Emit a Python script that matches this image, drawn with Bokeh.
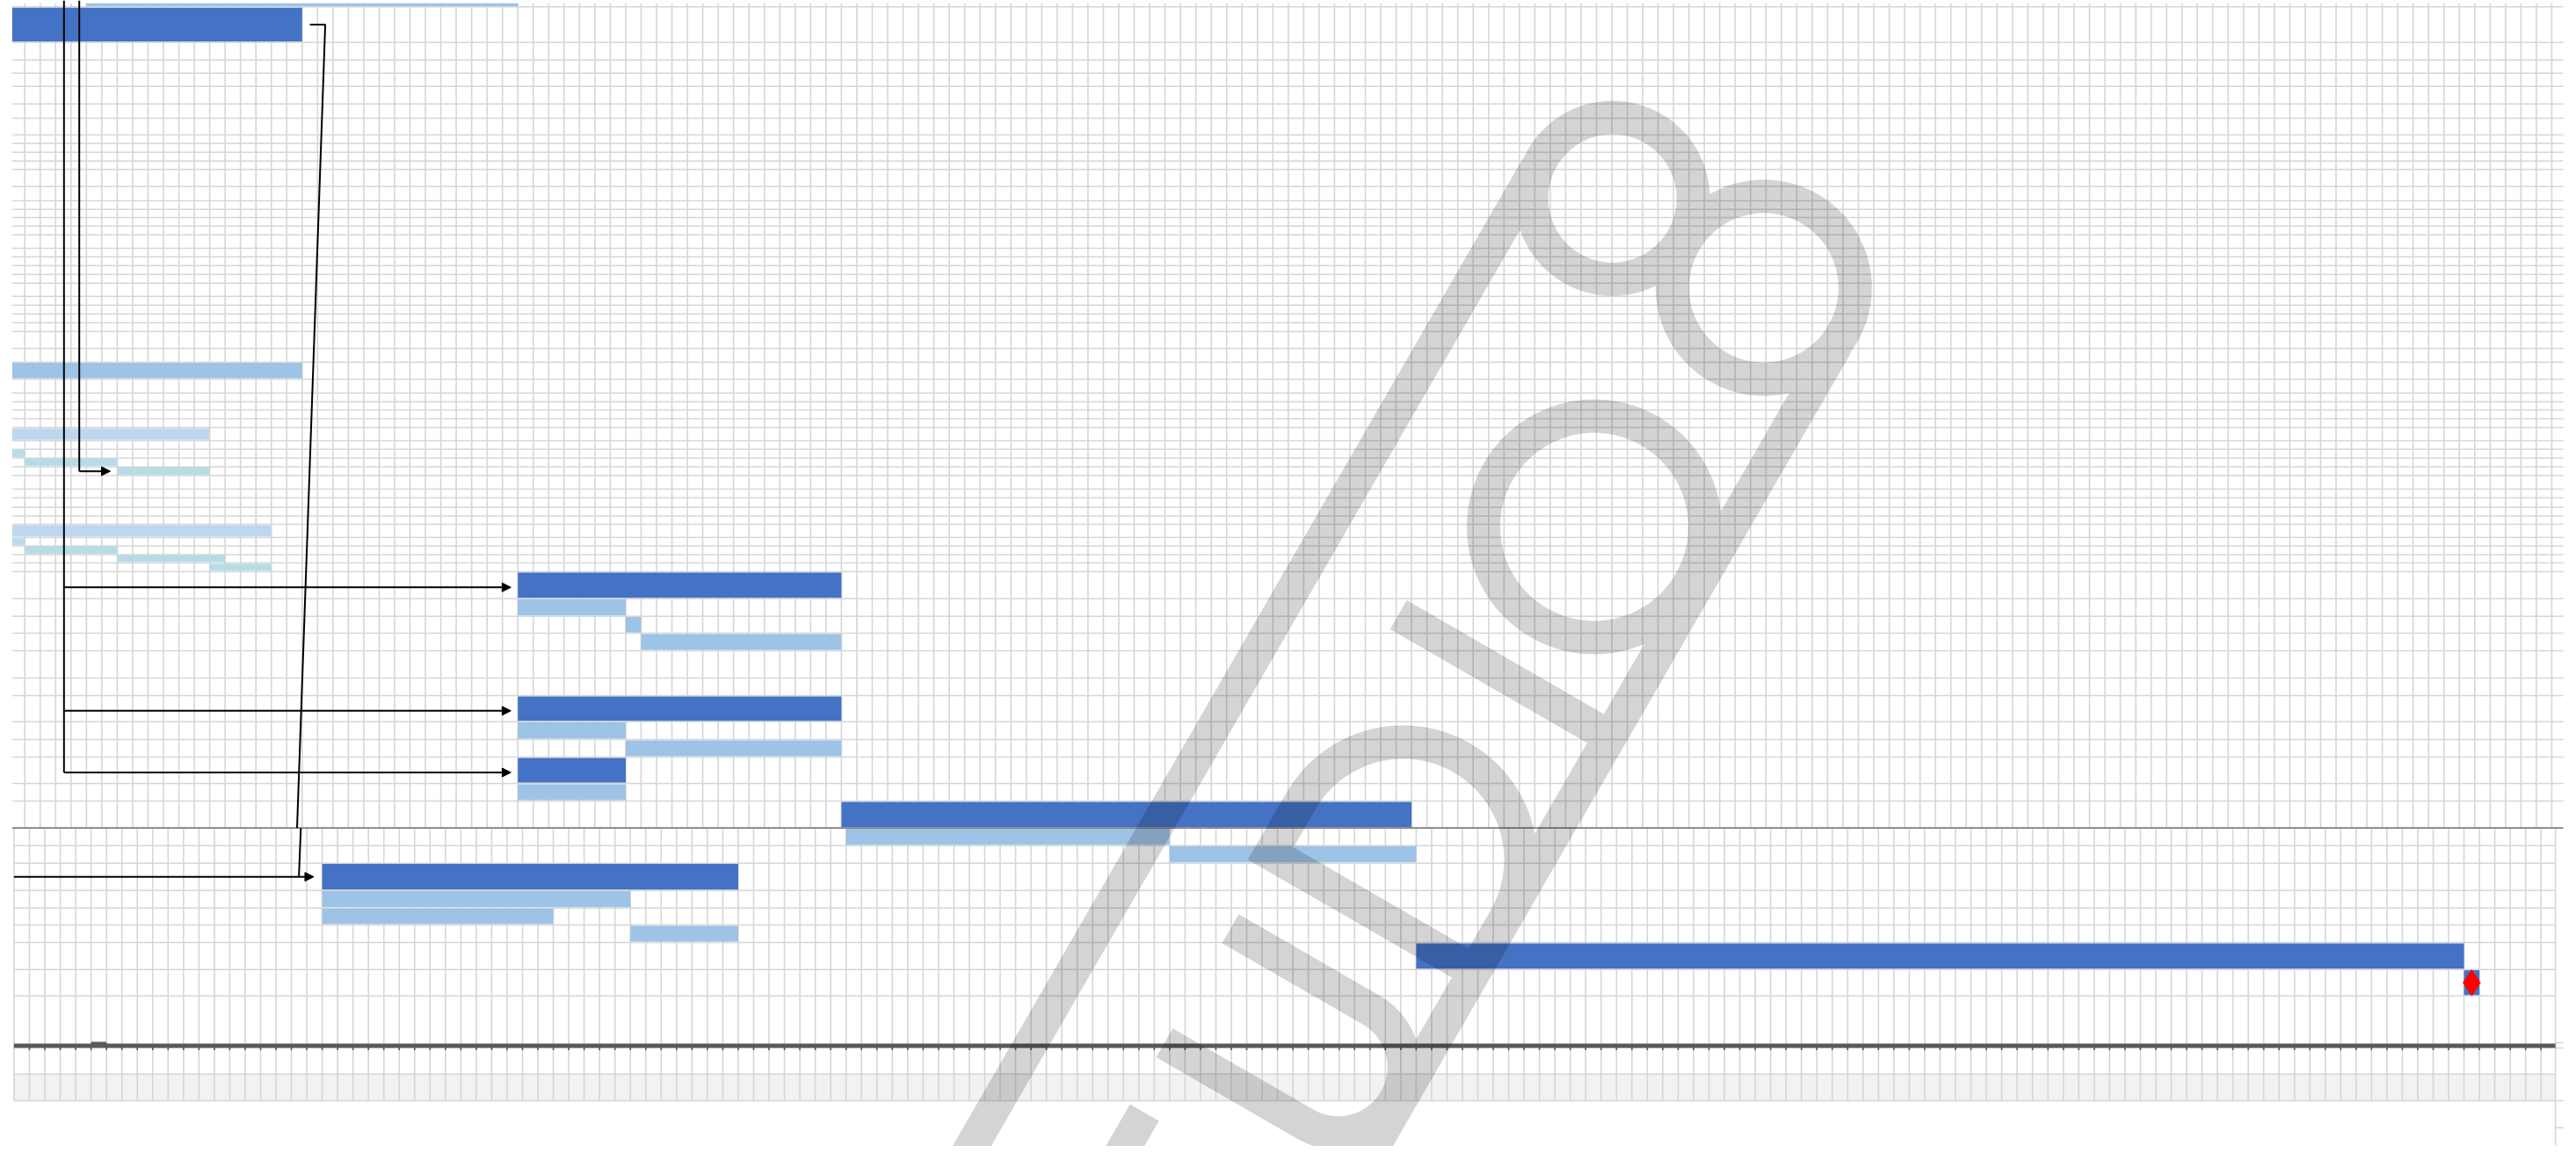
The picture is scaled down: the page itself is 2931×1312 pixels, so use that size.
import numpy as np
from bokeh.plotting import figure
from bokeh.models import Range1d, Arrow, NormalHead
from bokeh.embed import file_html
from bokeh.resources import INLINE

# ---------------- chart values (days, counted from the first full column) ----------------
# upper sheet: row number, start day, end day, bar kind
UP_ROW   = [0, 1, 30, 36, 38, 39, 40, 46, 47, 48, 49, 50, 51, 52, 53, 54, 57, 58, 59, 60, 61, 62]
UP_START = [4, -2, -2, -2, -2, 0, 6, -2, -2, 0, 6, 12, 32, 32, 39, 40, 32, 32, 39, 32, 32, 53]
UP_END   = [32, 18, 18, 12, 0, 6, 12, 16, 0, 6, 13, 16, 53, 39, 40, 53, 53, 39, 53, 39, 39, 90]
UP_KIND  = ["sub", "summary", "sub", "group", "detail", "detail", "detail", "group",
            "detail", "detail", "detail", "detail", "summary", "sub", "sub", "sub",
            "summary", "sub", "sub", "summary", "sub", "summary"]

# lower sheet
LO_ROW   = [0, 1, 2, 3, 4, 5, 6]
LO_START = [53, 74, 19, 19, 19, 39, 90]
LO_END   = [74, 90, 46, 39, 34, 46, 158]
LO_KIND  = ["sub", "sub", "summary", "sub", "sub", "sub", "summary"]
MILESTONE_ROW = [7]
MILESTONE_DAY = [158]

# dependency links
LINKS_A_ROWS = [51, 57, 60]
LINKS_A_DAY = 32
LINK_B_ROW, LINK_B_DAY = 40, 6
LINK_C_FROM_DAY, LINK_C_ROW, LINK_C_DAY = 18, 2, 19

COLORS = {"summary": "#4472C4", "sub": "#9DC3E6", "group": "#BDD7EE", "detail": "#B6DDE5"}

# ---------------- layout ----------------
DAY_PX, DAY0_PX = 17.532, 27.7
UPPER_EDGES = [3.3, 7.3, 47.7, 67.7, 82.7, 97.7, 117.7, 134, 153, 162.7, 172.7, 182.7, 192.3,
               211.7, 228, 237.7, 247, 256.7, 266.7, 282, 291.7, 301.7, 311.7, 321.7, 336.7,
               346.7, 356.7, 366.7, 376.7, 396, 411.7, 431, 446.7, 456.7, 466, 476, 486, 501,
               510.7, 520.7, 530.7, 540.7, 556, 566, 576.7, 586.7, 596, 611, 620.7, 630.7,
               640, 650, 680.7, 700.7, 720, 740, 771, 791, 820.7, 841, 861, 891, 911, 941.7]
LOWER_EDGES = [941.7, 961.7, 981.7, 1012.7, 1032.7, 1052, 1072, 1102.7, 1132.7, 1187,
               1192, 1221.7, 1252]
LOWER_SHIFT = 0.302
UP_LEFT, UP_RIGHT = -0.816, 164.75
LO_LEFT, LO_RIGHT = -0.702, 164.24
GRID = "#D6D6D6"

W, H = 2923, 1304
X0 = (0 - DAY0_PX) / DAY_PX
X1 = X0 + W / DAY_PX
Y_TOP, Y_BOT = 0.0, float(H)


def d_of(px):
    return (px - DAY0_PX) / DAY_PX


def mid(edges, r):
    return 0.5 * (edges[r] + edges[r + 1])


p = figure(width=W, height=H, output_backend="svg", toolbar_location=None,
           x_range=Range1d(X0, X1), y_range=Range1d(Y_BOT, Y_TOP),
           x_axis_location=None, y_axis_location=None, min_border=0)
p.grid.visible = False
p.outline_line_color = None
p.background_fill_color = "white"
p.border_fill_color = "white"

# gray band at the bottom of the lower sheet
p.quad(left=[LO_LEFT], right=[LO_RIGHT], top=[LOWER_EDGES[-2]], bottom=[LOWER_EDGES[-1]],
       fill_color="#F2F2F2", line_color=None)

# ---- grid: upper sheet ----
ux = list(range(0, 165))
p.segment(x0=ux, y0=[UPPER_EDGES[0]] * len(ux), x1=ux, y1=[UPPER_EDGES[-1]] * len(ux),
          line_color=GRID, line_width=1.6)
uy = UPPER_EDGES[1:-1]
p.segment(x0=[UP_LEFT] * len(uy), y0=uy, x1=[UP_RIGHT] * len(uy), y1=uy,
          line_color=GRID, line_width=1.6)

# ---- grid: lower sheet ----
lx = [k + LOWER_SHIFT for k in range(0, 164)] + [LO_LEFT]
p.segment(x0=lx, y0=[LOWER_EDGES[0]] * len(lx), x1=lx, y1=[LOWER_EDGES[-1]] * len(lx),
          line_color=GRID, line_width=1.6)
ly = [e for i, e in enumerate(LOWER_EDGES) if i not in (0, 9, 10)]
p.segment(x0=[LO_LEFT] * len(ly), y0=ly, x1=[LO_RIGHT] * len(ly), y1=ly,
          line_color=GRID, line_width=1.6)
p.segment(x0=[LO_RIGHT], y0=[LOWER_EDGES[0]], x1=[LO_RIGHT], y1=[Y_BOT],
          line_color=GRID, line_width=1.6)
tick_y = [1186, 1192, 1252, 1282.7]
p.segment(x0=[LO_RIGHT] * 4, y0=tick_y, x1=[UP_RIGHT] * 4, y1=tick_y,
          line_color=GRID, line_width=1.6)

# sheet separator and thick line
p.segment(x0=[UP_LEFT], y0=[UPPER_EDGES[-1]], x1=[UP_RIGHT], y1=[UPPER_EDGES[-1]],
          line_color="#7F7F7F", line_width=1.8)
thick_y = 0.5 * (LOWER_EDGES[9] + LOWER_EDGES[10])
p.segment(x0=[LO_LEFT], y0=[thick_y], x1=[LO_RIGHT], y1=[thick_y],
          line_color="#595959", line_width=5)
tx = [k + LOWER_SHIFT for k in range(0, 164)]
p.segment(x0=tx, y0=[thick_y] * len(tx), x1=tx, y1=[thick_y + 5] * len(tx),
          line_color="#595959", line_width=1.6)
p.quad(left=[4 + LOWER_SHIFT], right=[5 + LOWER_SHIFT], top=[thick_y - 4.5], bottom=[thick_y],
       fill_color="#595959", line_color=None)


# ---- bars ----
def draw_bars(rows, starts, ends, kinds, edges, shift, left, first_pad):
    l = [max(s + shift, left) for s in starts]
    r = [e + shift for e in ends]
    t = [edges[i] + (first_pad if i == 0 else 0.9) for i in rows]
    b = [edges[i + 1] - 0.9 for i in rows]
    c = [COLORS[k] for k in kinds]
    p.quad(left=l, right=r, top=t, bottom=b, fill_color=c, line_color=None)


draw_bars(UP_ROW, UP_START, UP_END, UP_KIND, UPPER_EDGES, 0.0, UP_LEFT, 0.0)
draw_bars(LO_ROW, LO_START, LO_END, LO_KIND, LOWER_EDGES, LOWER_SHIFT, LO_LEFT, 0.9)

# milestone
mr = MILESTONE_ROW[0]
p.quad(left=[MILESTONE_DAY[0] + LOWER_SHIFT], right=[MILESTONE_DAY[0] + 1 + LOWER_SHIFT],
       top=[LOWER_EDGES[mr] + 0.9], bottom=[LOWER_EDGES[mr + 1] - 0.9],
       fill_color=COLORS["summary"], line_color=None)
p.scatter(x=[MILESTONE_DAY[0] + 0.5 + LOWER_SHIFT], y=[mid(LOWER_EDGES, mr)], marker="diamond",
          size=30, fill_color="#FF0000", line_color="#FF0000", line_width=0.5)


# ---- dependency connectors ----
def arrow(xs, ys, xe, ye):
    p.add_layout(Arrow(end=NormalHead(size=10, fill_color="black", line_color="black"),
                       x_start=xs, y_start=ys, x_end=xe, y_end=ye,
                       line_color="black", line_width=2))


gap = 0.45
xa = d_of(72.3)
ya = [mid(UPPER_EDGES, r) + 2.5 for r in LINKS_A_ROWS]
p.line([xa, xa], [Y_TOP, ya[-1]], line_color="black", line_width=2)
for y in ya:
    arrow(xa, y, LINKS_A_DAY - gap, y)

xb = d_of(89.7)
yb = mid(UPPER_EDGES, LINK_B_ROW)
p.line([xb, xb], [Y_TOP, yb], line_color="black", line_width=2)
arrow(xb, yb, LINK_B_DAY - gap, yb)

yc0 = mid(UPPER_EDGES, 1)
p.line([LINK_C_FROM_DAY + 0.5, LINK_C_FROM_DAY + 1.5, d_of(337.5)],
       [yc0, yc0, UPPER_EDGES[-1]], line_color="black", line_width=2)
yc1 = mid(LOWER_EDGES, LINK_C_ROW)
p.line([d_of(341.8), d_of(339.6)], [LOWER_EDGES[0], yc1], line_color="black", line_width=2)
arrow(LO_LEFT, yc1, LINK_C_DAY + LOWER_SHIFT - 0.55, yc1)

# ---- light-gray watermark (drawn as one stroked path) ----
C60, S60 = 0.5, 0.8660254


def to_data(u, n):
    x = C60 * u + S60 * n
    y = -S60 * u + C60 * n
    return d_of(x), y


def arc(cu, cn, r, a0, a1, k=90):
    t = np.radians(np.linspace(a0, a1, k))
    return list(zip(cu + r * np.cos(t), cn + r * np.sin(t)))


strokes = [
    [(-800, 1609), (712, 1609)],
    [(-800, 2005), (705, 2005)],
    [(-800, 1760), (-445, 1760)],
    [(190, 1727), (190, 2005)],
    [(-118, 1718), (-118, 1737), (-49, 1737)] + arc(-49, 1871, 134, -90, 90) + [(-118, 2005), (-118, 1737)],
    [(-215, 1740), (-215, 1925)] + arc(-290, 1925, 75, 0, 180) + [(-365, 1740)],
    arc(722, 1701, 92, 0, 370, 150),
    arc(720, 1901, 104, 0, 370, 160),
    arc(388, 1870, 126, 0, 370, 180),
]
wx, wy = [], []
for s in strokes:
    for u, n in s:
        xx, yy = to_data(u, n)
        wx.append(xx)
        wy.append(yy)
    wx.append(np.nan)
    wy.append(np.nan)
p.line(wx, wy, line_color="black", line_alpha=0.17, line_width=38,
       line_join="round", line_cap="butt")

open("out.html", "w").write(file_html(p, INLINE))
